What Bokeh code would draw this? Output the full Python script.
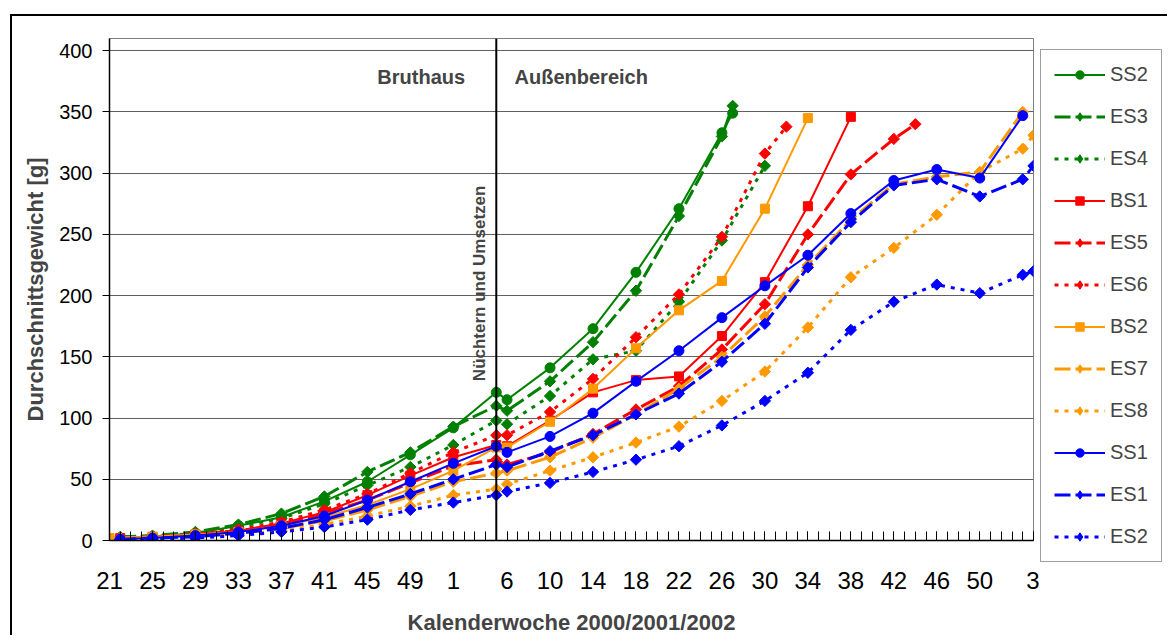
from bokeh.plotting import figure
from bokeh.layouts import row
from bokeh.models import ColumnDataSource, FixedTicker, Span, Label, Legend, LegendItem, Range1d
from bokeh.embed import file_html
from bokeh.resources import INLINE
import math

FONT = "Liberation Sans"

# x positions are category indices (one per calendar week, week 21/2000 = 0)
tick_pos = [0, 4, 8, 12, 16, 20, 24, 28, 32, 37, 41, 45, 49, 53, 57, 61, 65, 69, 73, 77, 81, 86]
tick_lab = ["21", "25", "29", "33", "37", "41", "45", "49", "1", "6", "10", "14",
            "18", "22", "26", "30", "34", "38", "42", "46", "50", "3"]

early = [1, 4, 8, 12, 16, 20, 24, 28, 32]
late = [36, 37, 41, 45, 49, 53, 57, 61, 65, 69, 73, 77, 81, 85]

ss2_x = early + [36, 37, 41, 45, 49, 53, 57, 58]
ss2_y = [2, 3, 6, 12, 19, 32, 48, 70, 92, 121, 115, 141, 173, 219, 271, 333, 349]
es3_x = early + [36, 37, 41, 45, 49, 53, 57, 58]
es3_y = [3, 4, 7, 13, 22, 36, 56, 72, 93, 110, 106, 130, 162, 204, 265, 330, 355]
es4_x = early + [36, 37, 41, 45, 49, 53, 57, 61]
es4_y = [2, 3, 6, 11, 18, 30, 45, 60, 78, 98, 95, 118, 148, 155, 195, 245, 306]

bs1_x = early + [36, 37, 41, 45, 49, 53, 57, 61, 65, 69]
bs1_y = [2, 3, 5, 8, 14, 23, 37, 53, 68, 78, 77, 98, 121, 131, 134, 167, 211, 273, 346]
es5_x = early + [36, 37, 41, 45, 49, 53, 57, 61, 65, 69, 73, 75]
es5_y = [2, 3, 5, 8, 13, 22, 33, 47, 61, 66, 62, 72, 87, 107, 126, 156, 193, 250, 299, 328, 340]
es6_x = early + [36, 37, 41, 45, 49, 53, 57, 61, 63]
es6_y = [2, 3, 5, 9, 15, 25, 38, 55, 72, 86, 86, 105, 132, 166, 201, 248, 316, 338]

bs2_x = [0, 4, 8, 12, 16, 20, 24, 28, 32, 36, 37, 41, 45, 49, 53, 57, 61, 65]
bs2_y = [2, 3, 5, 7, 12, 19, 29, 42, 57, 76, 76, 97, 124, 157, 188, 212, 271, 345]
es7_x = early + late
es7_y = [2, 3, 4, 6, 10, 16, 25, 36, 48, 55, 57, 68, 84, 103, 124, 150, 183, 225, 262, 291, 297, 301, 350]
es8_x = early + late + [86]
es8_y = [1, 2, 3, 5, 8, 13, 20, 28, 37, 42, 46, 57, 68, 80, 93, 114, 138, 174, 215, 239, 266, 301, 320, 331]

ss1_x = early + late
ss1_y = [1, 2, 4, 7, 12, 20, 33, 48, 63, 77, 72, 85, 104, 130, 155, 182, 208, 233, 267, 294, 303, 296, 347]
es1_x = early + late + [86]
es1_y = [1, 2, 3, 6, 10, 17, 27, 38, 50, 62, 60, 73, 86, 103, 120, 146, 177, 223, 260, 290, 295, 281, 295, 306]
es2_x = early + late + [86]
es2_y = [1, 1, 2, 4, 7, 11, 17, 25, 31, 37, 40, 47, 56, 66, 77, 94, 114, 137, 172, 195, 209, 202, 217, 220]

GREEN, RED, ORANGE, BLUE = "#008000", "#FF0000", "#FF9900", "#0000FF"
SOLID, LONG, DOT = "solid", "16 5", "4 6"

series = [
    ("SS2", ss2_x, ss2_y, GREEN, SOLID, "circle"),
    ("ES3", es3_x, es3_y, GREEN, LONG, "diamond"),
    ("ES4", es4_x, es4_y, GREEN, DOT, "diamond"),
    ("BS1", bs1_x, bs1_y, RED, SOLID, "square"),
    ("ES5", es5_x, es5_y, RED, LONG, "diamond"),
    ("ES6", es6_x, es6_y, RED, DOT, "diamond"),
    ("BS2", bs2_x, bs2_y, ORANGE, SOLID, "square"),
    ("ES7", es7_x, es7_y, ORANGE, LONG, "diamond"),
    ("ES8", es8_x, es8_y, ORANGE, DOT, "diamond"),
    ("SS1", ss1_x, ss1_y, BLUE, SOLID, "circle"),
    ("ES1", es1_x, es1_y, BLUE, LONG, "diamond"),
    ("ES2", es2_x, es2_y, BLUE, DOT, "diamond"),
]

H = 621

p = figure(width=1029, height=H, output_backend="svg", toolbar_location=None,
           x_range=Range1d(0, 86), y_range=Range1d(0, 410), frame_align=False,
           min_border_left=97, min_border_top=22, min_border_right=8, min_border_bottom=96,
           margin=(14, 0, 0, 10),
           styles={"border-left": "2px solid black", "border-top": "2px solid black"})
p.outline_line_color = "#808080"
p.outline_line_width = 1
p.background_fill_color = "white"

# axes
p.yaxis.ticker = FixedTicker(ticks=list(range(0, 401, 50)))
p.yaxis.major_label_text_font = FONT
p.yaxis.major_label_text_font_size = "20px"
p.yaxis.major_label_text_color = "black"
p.yaxis.major_tick_out = 7
p.yaxis.major_tick_in = 0
p.yaxis.minor_tick_line_color = None
p.yaxis.major_label_standoff = 10
p.yaxis.axis_line_color = "black"
p.yaxis.axis_line_width = 1.5
p.yaxis.major_tick_line_color = "black"
p.yaxis.axis_label = "Durchschnittsgewicht [g]"
p.yaxis.axis_label_text_font = FONT
p.yaxis.axis_label_text_font_style = "bold"
p.yaxis.axis_label_text_font_size = "22px"
p.yaxis.axis_label_standoff = 8

p.xaxis.ticker = FixedTicker(ticks=tick_pos, minor_ticks=list(range(0, 87)))
p.xaxis.major_label_overrides = {k: v for k, v in zip(tick_pos, tick_lab)}
p.xaxis.major_label_text_font = FONT
p.xaxis.major_label_text_font_size = "24px"
p.xaxis.major_label_text_color = "black"
p.xaxis.major_tick_in = 9
p.xaxis.major_tick_out = 0
p.xaxis.minor_tick_in = 9
p.xaxis.minor_tick_out = 0
p.xaxis.major_label_standoff = 31
p.xaxis.axis_line_color = "black"
p.xaxis.axis_line_width = 1.5
p.xaxis.major_tick_line_color = "black"
p.xaxis.minor_tick_line_color = "black"
p.xaxis.axis_label = "Kalenderwoche 2000/2001/2002"
p.xaxis.axis_label_text_font = FONT
p.xaxis.axis_label_text_font_style = "bold"
p.xaxis.axis_label_text_font_size = "22px"
p.xaxis.axis_label_standoff = 18

p.xgrid.visible = False
p.ygrid.ticker = FixedTicker(ticks=list(range(50, 401, 50)))
p.ygrid.grid_line_color = "#606060"
p.ygrid.grid_line_width = 1

p.add_layout(Span(location=36, dimension="height", line_color="black", line_width=2))

# legend lives in a small side figure so that it is not clipped by the main frame
q = figure(width=128, height=H, output_backend="svg", toolbar_location=None,
           x_range=Range1d(0, 1), y_range=Range1d(0, 1), frame_align=False,
           x_axis_location=None, y_axis_location=None,
           min_border_left=1, min_border_right=0, min_border_top=33, min_border_bottom=0,
           margin=(14, 0, 0, 0), styles={"border-top": "2px solid black"})
q.outline_line_color = None
q.xgrid.visible = False
q.ygrid.visible = False


def marker_kw(mk):
    if mk == "diamond":  # Excel-style diamond: a square turned by 45 degrees
        return dict(marker="square", size=8, angle=math.pi / 4)
    if mk == "square":
        return dict(marker="square", size=9)
    return dict(marker="circle", size=10)


def legend_marker_kw(mk):
    if mk == "diamond":
        return dict(marker="diamond", size=14)
    return marker_kw(mk)


items = []
for name, xs, ys, col, dash, mk in series:
    src = ColumnDataSource(dict(x=xs, y=ys))
    lw = 2 if dash == SOLID else 3
    p.line("x", "y", source=src, line_color=col, line_width=lw, line_dash=dash)
    p.scatter("x", "y", source=src, fill_color=col, line_color=col, **marker_kw(mk))
    off = ColumnDataSource(dict(x=[-10, -9], y=[-10, -9]))  # outside the legend figure's ranges
    l1 = q.line("x", "y", source=off, line_color=col, line_width=lw, line_dash=dash)
    l2 = q.scatter("x", "y", source=off, fill_color=col, line_color=col, **legend_marker_kw(mk))
    items.append(LegendItem(label=name, renderers=[l1, l2]))

legend = Legend(items=items, location="top_left", margin=0, padding=13,
                glyph_width=51, glyph_height=21, label_height=21, spacing=19,
                label_standoff=5, label_text_font=FONT, label_text_font_size="20px",
                border_line_color="#404040", border_line_width=1,
                background_fill_color="white")
q.add_layout(legend, "center")

p.add_layout(Label(x=33.1, y=378.5, text="Bruthaus", text_font=FONT, text_font_style="bold",
                   text_font_size="20px", text_align="right", text_baseline="middle"))
p.add_layout(Label(x=37.7, y=378.5, text="Außenbereich", text_font=FONT, text_font_style="bold",
                   text_font_size="20px", text_align="left", text_baseline="middle"))
p.add_layout(Label(x=34.4, y=210, text="Nüchtern und Umsetzen", text_font=FONT,
                   text_font_style="bold", text_font_size="17px", text_align="center",
                   text_baseline="middle", angle=math.pi / 2))

layout = row(p, q)
open("out.html", "w").write(file_html(layout, INLINE))
